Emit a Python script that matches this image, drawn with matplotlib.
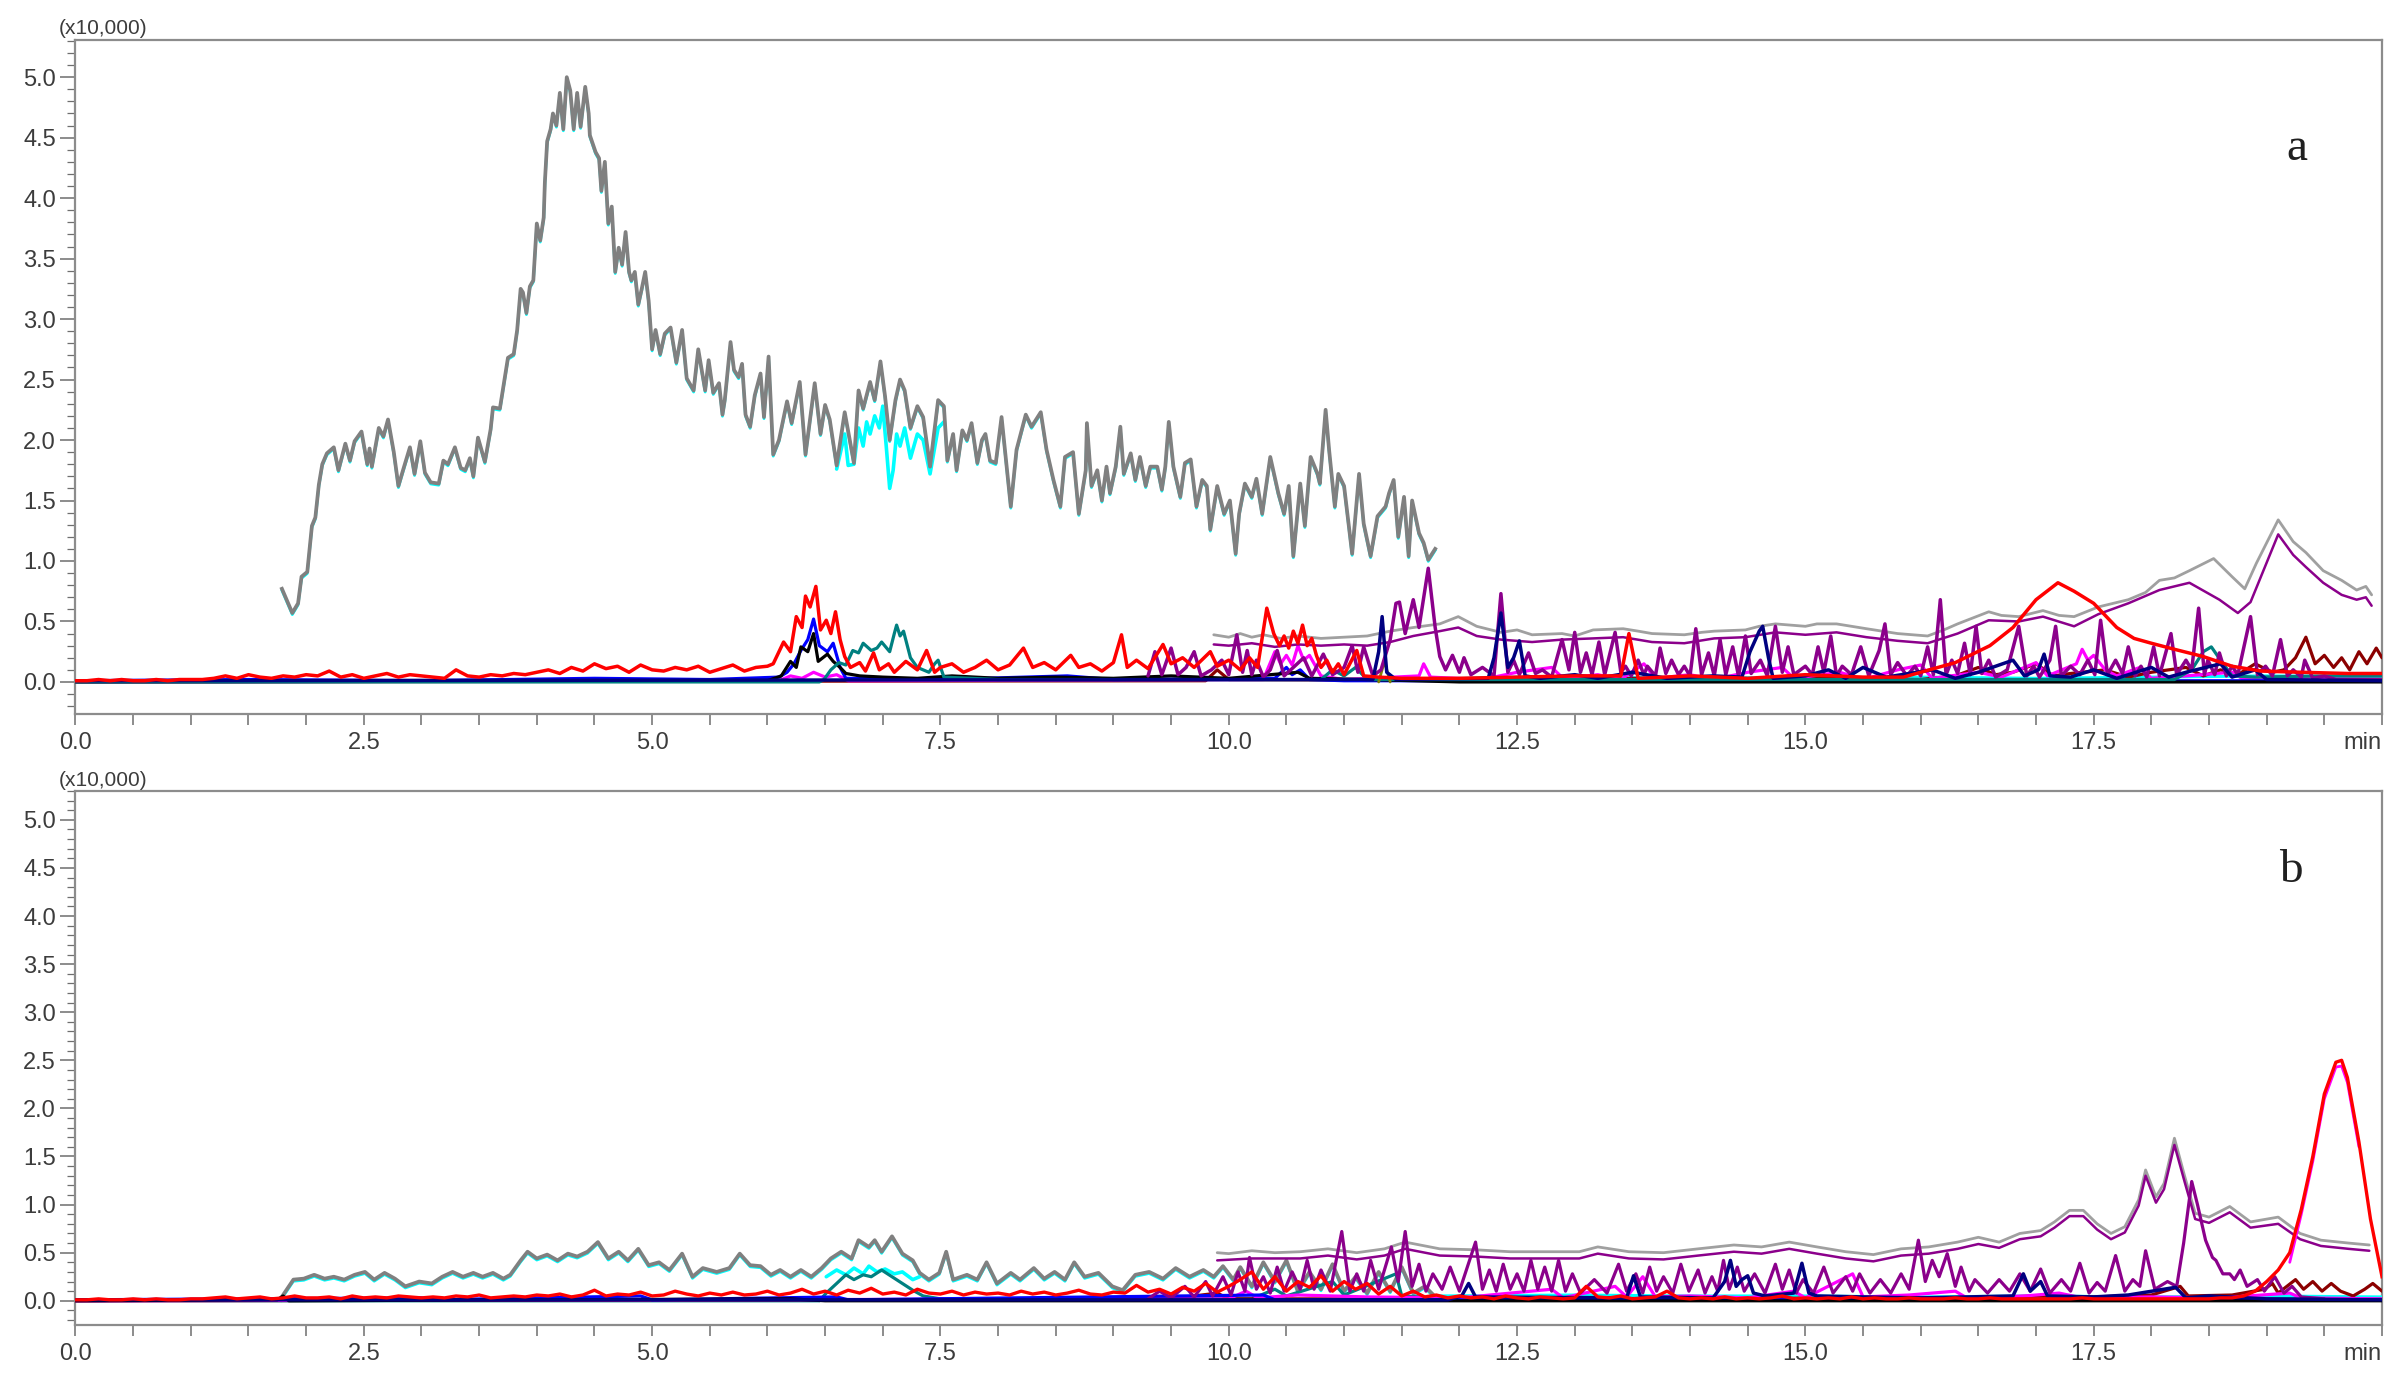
import numpy as np
import matplotlib.pyplot as plt
from matplotlib.ticker import MultipleLocator, FixedLocator
from matplotlib.transforms import offset_copy

plt.rcParams['font.family'] = ['Liberation Sans', 'DejaVu Sans']

# ---------------- panel a (values in x10,000 counts, time in min) ----------------
gray_a = [
    (1.79, 0.77), (1.88, 0.57), (1.93, 0.65), (1.96, 0.87), (2.01, 0.91), (2.05, 1.29), (2.08, 1.36),
    (2.11, 1.63), (2.14, 1.80), (2.18, 1.89), (2.24, 1.94), (2.28, 1.75), (2.34, 1.97), (2.38, 1.83),
    (2.42, 1.99), (2.48, 2.07), (2.53, 1.80), (2.55, 1.93), (2.57, 1.78), (2.63, 2.10), (2.67, 2.03),
    (2.71, 2.17), (2.76, 1.90), (2.80, 1.62), (2.84, 1.75), (2.90, 1.94), (2.94, 1.72), (2.99, 1.99),
    (3.03, 1.73), (3.08, 1.65), (3.15, 1.64), (3.19, 1.83), (3.23, 1.80), (3.29, 1.94), (3.34, 1.77),
    (3.38, 1.75), (3.42, 1.85), (3.45, 1.70), (3.49, 2.02), (3.55, 1.82), (3.60, 2.09), (3.62, 2.27),
    (3.68, 2.26), (3.71, 2.44), (3.75, 2.68), (3.80, 2.71), (3.83, 2.91), (3.86, 3.25), (3.88, 3.22),
    (3.91, 3.05), (3.94, 3.27), (3.97, 3.32), (4.00, 3.79), (4.03, 3.65), (4.06, 3.84), (4.07, 4.13),
    (4.09, 4.47), (4.12, 4.57), (4.14, 4.70), (4.17, 4.60), (4.20, 4.87), (4.23, 4.57), (4.26, 5.00),
    (4.29, 4.89), (4.32, 4.57), (4.35, 4.87), (4.38, 4.59), (4.42, 4.92), (4.45, 4.70), (4.46, 4.52),
    (4.51, 4.38), (4.54, 4.33), (4.56, 4.06), (4.59, 4.30), (4.62, 3.79), (4.65, 3.93), (4.68, 3.39),
    (4.71, 3.59), (4.74, 3.45), (4.77, 3.72), (4.80, 3.39), (4.82, 3.32), (4.85, 3.39), (4.88, 3.12),
    (4.91, 3.25), (4.94, 3.39), (4.97, 3.15), (5.00, 2.75), (5.03, 2.91), (5.07, 2.71), (5.11, 2.88),
    (5.16, 2.93), (5.21, 2.64), (5.26, 2.91), (5.30, 2.51), (5.36, 2.41), (5.40, 2.75), (5.46, 2.41),
    (5.49, 2.66), (5.53, 2.39), (5.58, 2.47), (5.61, 2.21), (5.63, 2.33), (5.68, 2.81), (5.71, 2.58),
    (5.75, 2.52), (5.78, 2.63), (5.81, 2.21), (5.85, 2.11), (5.89, 2.37), (5.94, 2.55), (5.97, 2.19),
    (6.01, 2.69), (6.05, 1.88), (6.10, 2.00), (6.17, 2.32), (6.21, 2.14), (6.28, 2.48), (6.33, 1.88),
    (6.41, 2.47), (6.46, 2.05), (6.50, 2.29), (6.54, 2.17), (6.60, 1.79), (6.67, 2.23), (6.75, 1.81),
    (6.79, 2.41), (6.83, 2.26), (6.89, 2.48), (6.93, 2.33), (6.98, 2.65), (7.02, 2.36), (7.06, 2.00),
    (7.11, 2.33), (7.15, 2.50), (7.19, 2.41), (7.24, 2.10), (7.30, 2.28), (7.35, 2.19), (7.41, 1.78),
    (7.48, 2.33), (7.53, 2.28), (7.56, 1.83), (7.61, 2.05), (7.64, 1.75), (7.69, 2.08), (7.73, 2.00),
    (7.77, 2.14), (7.82, 1.81), (7.86, 2.00), (7.89, 2.05), (7.93, 1.83), (7.98, 1.81), (8.03, 2.19),
    (8.11, 1.45), (8.16, 1.92), (8.24, 2.21), (8.29, 2.11), (8.37, 2.23), (8.42, 1.92), (8.48, 1.67),
    (8.54, 1.45), (8.58, 1.86), (8.65, 1.90), (8.70, 1.39), (8.76, 1.75), (8.77, 2.14), (8.81, 1.62),
    (8.86, 1.75), (8.90, 1.50), (8.94, 1.78), (8.97, 1.56), (9.02, 1.78), (9.06, 2.11), (9.09, 1.72),
    (9.15, 1.89), (9.19, 1.67), (9.23, 1.86), (9.28, 1.62), (9.32, 1.78), (9.38, 1.78), (9.42, 1.59),
    (9.45, 1.78), (9.48, 2.15), (9.52, 1.78), (9.58, 1.53), (9.62, 1.81), (9.67, 1.84), (9.72, 1.45),
    (9.77, 1.67), (9.81, 1.62), (9.84, 1.26), (9.90, 1.62), (9.96, 1.39), (10.01, 1.50), (10.06, 1.06),
    (10.09, 1.39), (10.14, 1.64), (10.20, 1.53), (10.24, 1.68), (10.29, 1.39), (10.36, 1.86),
    (10.43, 1.56), (10.48, 1.39), (10.52, 1.62), (10.56, 1.04), (10.62, 1.64), (10.66, 1.29),
    (10.71, 1.86), (10.77, 1.72), (10.79, 1.64), (10.84, 2.25), (10.87, 1.92), (10.92, 1.45),
    (10.95, 1.72), (11.00, 1.62), (11.07, 1.06), (11.13, 1.72), (11.17, 1.31), (11.23, 1.04),
    (11.29, 1.37), (11.36, 1.45), (11.39, 1.56), (11.43, 1.67), (11.47, 1.20), (11.52, 1.53),
    (11.56, 1.04), (11.59, 1.50), (11.65, 1.23), (11.69, 1.15), (11.73, 1.01), (11.79, 1.10),
]
cyan_a_dev = [
    (6.60, 1.76), (6.67, 2.05), (6.70, 1.79), (6.75, 1.80), (6.79, 2.10), (6.83, 1.95), (6.86, 2.15),
    (6.89, 2.05), (6.93, 2.20), (6.97, 2.10), (7.00, 2.28), (7.03, 1.95), (7.06, 1.60), (7.09, 1.75),
    (7.12, 2.05), (7.15, 1.95), (7.19, 2.10), (7.24, 1.85), (7.30, 2.05), (7.35, 2.00), (7.41, 1.72),
    (7.48, 2.10), (7.53, 2.15),
]
gray2_a = [
    (9.87, 0.39), (10.0, 0.37), (10.1, 0.40), (10.2, 0.37), (10.3, 0.39), (10.45, 0.36), (10.6, 0.38),
    (10.8, 0.36), (11.0, 0.37), (11.2, 0.38), (11.4, 0.42), (11.6, 0.45), (11.83, 0.48), (11.99, 0.54),
    (12.15, 0.46), (12.36, 0.41), (12.5, 0.43), (12.63, 0.39), (12.89, 0.40), (13.0, 0.38), (13.16, 0.43),
    (13.42, 0.44), (13.55, 0.42), (13.67, 0.40), (13.95, 0.39), (14.1, 0.41), (14.21, 0.42), (14.48, 0.43),
    (14.6, 0.46), (14.74, 0.48), (15.00, 0.46), (15.1, 0.48), (15.27, 0.48), (15.4, 0.46), (15.53, 0.44),
    (15.80, 0.40), (16.06, 0.38), (16.2, 0.43), (16.32, 0.48), (16.59, 0.58), (16.7, 0.55),
    (16.85, 0.54), (17.06, 0.59), (17.2, 0.55), (17.33, 0.54), (17.54, 0.62), (17.80, 0.68),
    (17.95, 0.74), (18.07, 0.84), (18.2, 0.86), (18.33, 0.92), (18.54, 1.02), (18.70, 0.87),
    (18.81, 0.77), (18.91, 0.98), (19.10, 1.34), (19.23, 1.16), (19.34, 1.07), (19.49, 0.92),
    (19.65, 0.84), (19.78, 0.76), (19.86, 0.79), (19.91, 0.72),
]
purple_smooth_a = [
    (9.87, 0.31), (10.0, 0.30), (10.2, 0.32), (10.4, 0.29), (10.6, 0.31), (10.8, 0.30), (11.0, 0.31),
    (11.2, 0.30), (11.4, 0.33), (11.6, 0.38), (11.83, 0.42), (11.99, 0.45), (12.15, 0.38), (12.36, 0.35),
    (12.63, 0.33), (12.89, 0.35), (13.16, 0.36), (13.42, 0.37), (13.67, 0.33), (13.95, 0.32),
    (14.21, 0.36), (14.48, 0.37), (14.74, 0.41), (15.00, 0.39), (15.27, 0.41), (15.53, 0.37),
    (15.80, 0.34), (16.06, 0.32), (16.32, 0.40), (16.59, 0.51), (16.85, 0.50), (17.06, 0.54),
    (17.33, 0.46), (17.54, 0.56), (17.80, 0.65), (18.07, 0.76), (18.33, 0.82), (18.59, 0.68),
    (18.75, 0.57), (18.86, 0.66), (19.10, 1.22), (19.23, 1.05), (19.34, 0.95), (19.49, 0.82),
    (19.65, 0.72), (19.78, 0.68), (19.86, 0.70), (19.91, 0.63),
]
purple_spiky_a = [
    (9.30, 0.05), (9.36, 0.25), (9.42, 0.06), (9.50, 0.28), (9.56, 0.06), (9.63, 0.12), (9.70, 0.25),
    (9.76, 0.05), (9.85, 0.10), (9.94, 0.18), (10.00, 0.06), (10.07, 0.39), (10.12, 0.08), (10.16, 0.26),
    (10.20, 0.06), (10.24, 0.18), (10.30, 0.04), (10.36, 0.10), (10.42, 0.26), (10.48, 0.05),
    (10.56, 0.12), (10.65, 0.20), (10.72, 0.05), (10.82, 0.23), (10.90, 0.06), (11.00, 0.12),
    (11.07, 0.30), (11.12, 0.08), (11.17, 0.29), (11.25, 0.05), (11.32, 0.10), (11.40, 0.35),
    (11.45, 0.65), (11.48, 0.66), (11.53, 0.40), (11.60, 0.68), (11.65, 0.45), (11.73, 0.94),
    (11.79, 0.45), (11.83, 0.21), (11.88, 0.10), (11.94, 0.22), (12.00, 0.08), (12.04, 0.20),
    (12.10, 0.06), (12.20, 0.12), (12.30, 0.05), (12.36, 0.73), (12.42, 0.08), (12.47, 0.18),
    (12.52, 0.06), (12.60, 0.24), (12.66, 0.07), (12.72, 0.10), (12.80, 0.04), (12.89, 0.35),
    (12.95, 0.10), (13.00, 0.41), (13.05, 0.08), (13.10, 0.24), (13.15, 0.06), (13.21, 0.33),
    (13.26, 0.06), (13.35, 0.41), (13.40, 0.08), (13.44, 0.13), (13.49, 0.05), (13.55, 0.18),
    (13.60, 0.06), (13.63, 0.13), (13.70, 0.05), (13.74, 0.28), (13.79, 0.07), (13.84, 0.18),
    (13.90, 0.06), (13.95, 0.13), (14.00, 0.05), (14.05, 0.44), (14.10, 0.06), (14.16, 0.24),
    (14.21, 0.05), (14.26, 0.35), (14.31, 0.06), (14.37, 0.29), (14.42, 0.05), (14.48, 0.38),
    (14.53, 0.07), (14.61, 0.18), (14.67, 0.05), (14.74, 0.46), (14.80, 0.08), (14.85, 0.29),
    (14.90, 0.06), (15.00, 0.13), (15.06, 0.06), (15.11, 0.29), (15.16, 0.08), (15.22, 0.38),
    (15.27, 0.05), (15.32, 0.13), (15.40, 0.06), (15.48, 0.29), (15.55, 0.05), (15.64, 0.26),
    (15.69, 0.48), (15.74, 0.06), (15.80, 0.16), (15.88, 0.05), (15.95, 0.13), (16.00, 0.05),
    (16.06, 0.29), (16.11, 0.06), (16.17, 0.68), (16.22, 0.06), (16.27, 0.18), (16.32, 0.07),
    (16.38, 0.32), (16.43, 0.06), (16.48, 0.46), (16.53, 0.07), (16.59, 0.18), (16.65, 0.04),
    (16.75, 0.10), (16.85, 0.46), (16.92, 0.05), (16.98, 0.13), (17.03, 0.04), (17.12, 0.18),
    (17.17, 0.46), (17.22, 0.05), (17.30, 0.13), (17.38, 0.06), (17.45, 0.18), (17.51, 0.06),
    (17.56, 0.51), (17.62, 0.06), (17.69, 0.18), (17.75, 0.07), (17.80, 0.29), (17.86, 0.05),
    (17.91, 0.13), (17.96, 0.04), (18.02, 0.29), (18.07, 0.05), (18.17, 0.40), (18.22, 0.06),
    (18.30, 0.18), (18.35, 0.10), (18.41, 0.61), (18.46, 0.06), (18.49, 0.18), (18.55, 0.06),
    (18.59, 0.24), (18.65, 0.05), (18.70, 0.13), (18.75, 0.06), (18.86, 0.54), (18.92, 0.06),
    (18.99, 0.13), (19.05, 0.05), (19.12, 0.35), (19.18, 0.05), (19.23, 0.10), (19.30, 0.04),
    (19.33, 0.18), (19.40, 0.03), (19.50, 0.05), (19.60, 0.02), (20.0, 0.02),
]
red_a_base = [  # 0.0 .. 6.0 min, every 0.1 min
    0.01, 0.01, 0.02, 0.01, 0.02, 0.01, 0.01, 0.02, 0.01, 0.02, 0.02,
    0.02, 0.03, 0.05, 0.03, 0.06, 0.04, 0.03, 0.05, 0.04, 0.06,
    0.05, 0.09, 0.04, 0.06, 0.03, 0.05, 0.07, 0.04, 0.06, 0.05,
    0.04, 0.03, 0.10, 0.05, 0.04, 0.06, 0.05, 0.07, 0.06, 0.08,
    0.10, 0.07, 0.12, 0.09, 0.15, 0.11, 0.13, 0.08, 0.14, 0.10,
    0.09, 0.12, 0.10, 0.13, 0.08, 0.11, 0.14, 0.09, 0.12, 0.13,
]
red_a = [
    (6.05, 0.15), (6.14, 0.33), (6.20, 0.25), (6.25, 0.54), (6.30, 0.45), (6.33, 0.71), (6.37, 0.62),
    (6.42, 0.79), (6.46, 0.43), (6.51, 0.51), (6.55, 0.40), (6.59, 0.58), (6.63, 0.35), (6.67, 0.21),
    (6.72, 0.12), (6.80, 0.16), (6.85, 0.09), (6.92, 0.24), (6.97, 0.10), (7.05, 0.15), (7.10, 0.08),
    (7.20, 0.17), (7.30, 0.10), (7.38, 0.26), (7.45, 0.08), (7.50, 0.12), (7.60, 0.15), (7.70, 0.08),
    (7.80, 0.12), (7.90, 0.18), (8.00, 0.10), (8.10, 0.14), (8.22, 0.28), (8.30, 0.12), (8.40, 0.16),
    (8.50, 0.10), (8.63, 0.22), (8.70, 0.12), (8.80, 0.15), (8.90, 0.09), (9.00, 0.16), (9.07, 0.39),
    (9.12, 0.12), (9.20, 0.18), (9.30, 0.11), (9.43, 0.31), (9.50, 0.15), (9.60, 0.20), (9.70, 0.12),
    (9.84, 0.25), (9.90, 0.13), (10.00, 0.18), (10.10, 0.10), (10.18, 0.20), (10.25, 0.12),
    (10.33, 0.61), (10.39, 0.40), (10.44, 0.30), (10.48, 0.38), (10.52, 0.28), (10.56, 0.42),
    (10.60, 0.32), (10.64, 0.47), (10.68, 0.30), (10.72, 0.36), (10.76, 0.22), (10.80, 0.12),
    (10.85, 0.18), (10.90, 0.08), (10.95, 0.15), (11.00, 0.06), (11.11, 0.26), (11.17, 0.05),
    (11.30, 0.04), (11.50, 0.03), (12.00, 0.03), (12.50, 0.04), (13.00, 0.05), (13.40, 0.05),
    (13.47, 0.40), (13.55, 0.03), (14.00, 0.05), (14.50, 0.03), (15.00, 0.06), (15.50, 0.04),
    (15.85, 0.04), (16.00, 0.08), (16.30, 0.16), (16.60, 0.30), (16.80, 0.45), (17.00, 0.68),
    (17.19, 0.82), (17.33, 0.75), (17.50, 0.65), (17.70, 0.45), (17.85, 0.36), (18.00, 0.32),
    (18.20, 0.27), (18.45, 0.21), (18.70, 0.13), (18.95, 0.09), (19.30, 0.08), (19.70, 0.07),
    (20.00, 0.07),
]
blue_a = [
    (0.0, 0.01), (1.5, 0.02), (3.0, 0.01), (4.5, 0.03), (5.5, 0.02), (6.10, 0.04), (6.17, 0.08),
    (6.23, 0.15), (6.29, 0.26), (6.35, 0.35), (6.40, 0.52), (6.45, 0.30), (6.52, 0.25), (6.57, 0.32),
    (6.63, 0.12), (6.68, 0.03), (7.5, 0.02), (8.6, 0.05), (9.0, 0.02), (10.4, 0.03), (10.5, 0.12),
    (10.55, 0.06), (10.62, 0.10), (10.7, 0.02), (11.0, 0.01), (20.0, 0.01),
]
black_a = [
    (0.0, 0.0), (6.0, 0.01), (6.12, 0.05), (6.20, 0.17), (6.25, 0.12), (6.29, 0.29), (6.35, 0.25),
    (6.40, 0.40), (6.44, 0.17), (6.48, 0.20), (6.52, 0.23), (6.57, 0.17), (6.63, 0.12), (6.68, 0.07),
    (6.8, 0.05), (7.0, 0.04), (7.3, 0.03), (7.6, 0.05), (8.0, 0.03), (8.5, 0.04), (9.0, 0.03),
    (9.5, 0.05), (10.0, 0.03), (10.6, 0.08), (10.7, 0.03), (11.2, 0.02), (12.0, 0.0), (20.0, 0.0),
]
teal_a = [
    (0.0, 0.0), (6.45, 0.0), (6.49, 0.02), (6.55, 0.10), (6.62, 0.16), (6.68, 0.14), (6.74, 0.26),
    (6.79, 0.24), (6.83, 0.32), (6.90, 0.26), (6.95, 0.28), (6.99, 0.33), (7.06, 0.25), (7.10, 0.40),
    (7.12, 0.47), (7.15, 0.38), (7.18, 0.42), (7.24, 0.20), (7.30, 0.12), (7.40, 0.08), (7.45, 0.15),
    (7.48, 0.18), (7.53, 0.04), (8.0, 0.02), (10.8, 0.02), (10.9, 0.10), (11.0, 0.05), (11.1, 0.12),
    (11.2, 0.02), (18.2, 0.02), (18.35, 0.10), (18.45, 0.25), (18.52, 0.29), (18.6, 0.18),
    (18.7, 0.05), (18.9, 0.04), (19.5, 0.05), (20.0, 0.05),
]
magenta_a = [
    (0.0, 0.0), (6.1, 0.01), (6.2, 0.05), (6.3, 0.03), (6.4, 0.08), (6.5, 0.04), (6.6, 0.06),
    (6.7, 0.01), (10.3, 0.02), (10.4, 0.25), (10.45, 0.15), (10.5, 0.22), (10.55, 0.14), (10.6, 0.30),
    (10.65, 0.18), (10.7, 0.22), (10.8, 0.05), (11.0, 0.02), (11.65, 0.05), (11.69, 0.15),
    (11.75, 0.04), (12.2, 0.02), (12.5, 0.08), (12.8, 0.12), (12.9, 0.03), (13.2, 0.06), (13.4, 0.02),
    (13.6, 0.15), (13.7, 0.03), (14.0, 0.06), (14.2, 0.02), (14.5, 0.08), (14.8, 0.12), (14.9, 0.03),
    (15.3, 0.08), (15.5, 0.02), (15.8, 0.10), (16.0, 0.14), (16.1, 0.03), (16.5, 0.08), (16.7, 0.04),
    (17.0, 0.16), (17.1, 0.05), (17.35, 0.15), (17.4, 0.27), (17.45, 0.18), (17.5, 0.22),
    (17.6, 0.10), (17.7, 0.05), (17.9, 0.12), (18.0, 0.03), (18.3, 0.05), (18.7, 0.08), (18.8, 0.02),
    (19.0, 0.03), (20.0, 0.02),
]
navy_a = [
    (0.0, 0.01), (11.25, 0.02), (11.30, 0.25), (11.33, 0.54), (11.37, 0.08), (11.45, 0.02),
    (12.25, 0.03), (12.30, 0.20), (12.36, 0.57), (12.42, 0.12), (12.47, 0.20), (12.52, 0.34),
    (12.57, 0.05), (12.7, 0.03), (13.0, 0.06), (13.2, 0.03), (13.5, 0.08), (13.8, 0.03), (14.2, 0.05),
    (14.45, 0.04), (14.52, 0.25), (14.60, 0.42), (14.63, 0.46), (14.68, 0.20), (14.72, 0.03),
    (15.0, 0.05), (15.2, 0.10), (15.35, 0.03), (15.5, 0.12), (15.7, 0.04), (16.1, 0.10), (16.3, 0.03),
    (16.5, 0.08), (16.8, 0.18), (16.9, 0.05), (17.02, 0.10), (17.07, 0.23), (17.12, 0.05),
    (17.3, 0.04), (17.5, 0.10), (17.7, 0.03), (18.0, 0.12), (18.15, 0.04), (18.3, 0.08), (18.6, 0.15),
    (18.7, 0.04), (18.9, 0.10), (19.0, 0.02), (20.0, 0.01),
]
maroon_a = [
    (0.0, 0.0), (9.8, 0.01), (9.9, 0.10), (10.0, 0.02), (13.0, 0.01), (13.5, 0.03), (14.0, 0.02),
    (15.0, 0.03), (16.0, 0.02), (16.3, 0.05), (16.5, 0.12), (16.65, 0.06), (16.8, 0.08), (17.0, 0.15),
    (17.15, 0.05), (17.3, 0.07), (17.6, 0.10), (17.8, 0.04), (18.0, 0.08), (18.3, 0.12), (18.45, 0.05),
    (18.6, 0.10), (18.75, 0.06), (18.9, 0.15), (19.05, 0.08), (19.15, 0.10), (19.25, 0.20),
    (19.34, 0.37), (19.42, 0.15), (19.5, 0.22), (19.58, 0.12), (19.65, 0.20), (19.72, 0.10),
    (19.80, 0.25), (19.87, 0.15), (19.95, 0.28), (20.0, 0.20),
]
olive_a = [(11.30, 0.0), (11.35, 0.17), (11.40, 0.0)]
cyan_low_a = [
    (11.8, 0.02), (12.5, 0.04), (13.0, 0.03), (14.0, 0.04), (15.0, 0.03), (16.0, 0.04), (17.0, 0.03),
    (18.0, 0.04), (19.0, 0.05), (20.0, 0.04),
]

# ---------------- panel b ----------------
gray_b = [
    (1.78, 0.02), (1.80, 0.06), (1.89, 0.22), (1.98, 0.23), (2.07, 0.27), (2.16, 0.23), (2.24, 0.25),
    (2.33, 0.22), (2.42, 0.27), (2.51, 0.30), (2.59, 0.22), (2.68, 0.29), (2.77, 0.23), (2.86, 0.15),
    (2.98, 0.20), (3.09, 0.18), (3.18, 0.25), (3.27, 0.30), (3.36, 0.25), (3.45, 0.29), (3.53, 0.25),
    (3.62, 0.29), (3.71, 0.23), (3.77, 0.27), (3.86, 0.42), (3.92, 0.51), (4.00, 0.44), (4.09, 0.48),
    (4.18, 0.42), (4.27, 0.49), (4.35, 0.46), (4.44, 0.51), (4.53, 0.61), (4.62, 0.44), (4.71, 0.51),
    (4.79, 0.42), (4.88, 0.54), (4.97, 0.37), (5.06, 0.40), (5.15, 0.32), (5.26, 0.49), (5.35, 0.25),
    (5.44, 0.34), (5.56, 0.30), (5.67, 0.34), (5.76, 0.49), (5.85, 0.37), (5.94, 0.36), (6.03, 0.27),
    (6.11, 0.32), (6.20, 0.25), (6.29, 0.32), (6.38, 0.25), (6.47, 0.34), (6.55, 0.44), (6.64, 0.51),
    (6.73, 0.44), (6.79, 0.63), (6.88, 0.56), (6.93, 0.63), (6.99, 0.51), (7.08, 0.67), (7.17, 0.49),
    (7.26, 0.42), (7.32, 0.29), (7.40, 0.22), (7.49, 0.29), (7.55, 0.51), (7.61, 0.22), (7.73, 0.27),
    (7.82, 0.22), (7.90, 0.40), (7.99, 0.18), (8.11, 0.29), (8.19, 0.22), (8.31, 0.34), (8.40, 0.23),
    (8.49, 0.30), (8.58, 0.22), (8.66, 0.40), (8.75, 0.25), (8.87, 0.29), (8.99, 0.15), (9.08, 0.11),
    (9.19, 0.27), (9.31, 0.30), (9.43, 0.23), (9.54, 0.34), (9.66, 0.25), (9.78, 0.32), (9.87, 0.25),
    (9.95, 0.36), (10.04, 0.22), (10.1, 0.35), (10.2, 0.15), (10.3, 0.40), (10.4, 0.20), (10.5, 0.42),
    (10.6, 0.10), (10.7, 0.30), (10.8, 0.12), (10.9, 0.38), (11.0, 0.10), (11.1, 0.25), (11.2, 0.08),
    (11.3, 0.30), (11.4, 0.10), (11.5, 0.35), (11.6, 0.08), (11.7, 0.15), (11.8, 0.03),
]
cyan_b_dev = [
    (6.51, 0.25), (6.60, 0.32), (6.68, 0.27), (6.75, 0.34), (6.83, 0.28), (6.88, 0.36), (6.95, 0.30),
    (7.02, 0.33), (7.10, 0.28), (7.17, 0.30), (7.26, 0.22), (7.32, 0.25),
]
teal_b = [
    (0.0, 0.0), (6.45, 0.0), (6.51, 0.08), (6.60, 0.18), (6.68, 0.27), (6.75, 0.22), (6.83, 0.27),
    (6.90, 0.25), (6.99, 0.32), (7.08, 0.25), (7.17, 0.18), (7.26, 0.11), (7.35, 0.05), (7.5, 0.02),
    (10.2, 0.02), (10.4, 0.12), (10.5, 0.05), (10.9, 0.20), (11.0, 0.06), (11.45, 0.28), (11.5, 0.05),
    (12.0, 0.02), (20.0, 0.02),
]
gray2_b = [
    (9.90, 0.50), (10.0, 0.49), (10.2, 0.52), (10.4, 0.50), (10.62, 0.51), (10.86, 0.54), (11.11, 0.50),
    (11.35, 0.54), (11.53, 0.61), (11.83, 0.54), (12.14, 0.53), (12.44, 0.51), (12.74, 0.51),
    (13.04, 0.51), (13.20, 0.56), (13.47, 0.51), (13.77, 0.50), (14.07, 0.54), (14.38, 0.58),
    (14.62, 0.56), (14.86, 0.61), (15.10, 0.56), (15.35, 0.51), (15.59, 0.48), (15.83, 0.54),
    (16.07, 0.56), (16.32, 0.61), (16.50, 0.66), (16.68, 0.61), (16.86, 0.70), (17.04, 0.73),
    (17.16, 0.82), (17.29, 0.94), (17.41, 0.94), (17.53, 0.80), (17.65, 0.70), (17.77, 0.77),
    (17.89, 1.05), (17.95, 1.36), (18.04, 1.08), (18.11, 1.22), (18.20, 1.69), (18.29, 1.29),
    (18.38, 0.91), (18.50, 0.87), (18.68, 0.98), (18.86, 0.82), (19.10, 0.87), (19.29, 0.70),
    (19.47, 0.63), (19.71, 0.60), (19.89, 0.58),
]
purple_smooth_b = [
    (9.90, 0.42), (10.2, 0.44), (10.62, 0.44), (10.86, 0.47), (11.11, 0.43), (11.35, 0.47),
    (11.53, 0.54), (11.83, 0.47), (12.14, 0.46), (12.44, 0.44), (12.74, 0.44), (13.04, 0.44),
    (13.20, 0.49), (13.47, 0.44), (13.77, 0.43), (14.07, 0.47), (14.38, 0.51), (14.62, 0.49),
    (14.86, 0.54), (15.10, 0.49), (15.35, 0.44), (15.59, 0.41), (15.83, 0.47), (16.07, 0.49),
    (16.32, 0.54), (16.50, 0.59), (16.68, 0.55), (16.86, 0.64), (17.04, 0.67), (17.16, 0.76),
    (17.29, 0.88), (17.41, 0.88), (17.53, 0.74), (17.65, 0.64), (17.77, 0.71), (17.89, 0.99),
    (17.95, 1.30), (18.04, 1.02), (18.11, 1.16), (18.20, 1.62), (18.29, 1.23), (18.38, 0.85),
    (18.50, 0.81), (18.68, 0.92), (18.86, 0.76), (19.10, 0.80), (19.29, 0.64), (19.47, 0.57),
    (19.71, 0.54), (19.89, 0.52),
]
purple_spiky_b = [
    (9.30, 0.02), (9.40, 0.10), (9.50, 0.03), (9.62, 0.15), (9.70, 0.04), (9.80, 0.20), (9.86, 0.05),
    (9.95, 0.25), (10.02, 0.06), (10.08, 0.30), (10.14, 0.10), (10.18, 0.45), (10.24, 0.12),
    (10.30, 0.25), (10.36, 0.08), (10.42, 0.35), (10.48, 0.10), (10.55, 0.30), (10.62, 0.12),
    (10.68, 0.42), (10.74, 0.12), (10.80, 0.32), (10.88, 0.10), (10.98, 0.72), (11.05, 0.10),
    (11.11, 0.28), (11.17, 0.10), (11.23, 0.42), (11.30, 0.12), (11.41, 0.56), (11.47, 0.20),
    (11.53, 0.72), (11.59, 0.15), (11.65, 0.38), (11.71, 0.10), (11.77, 0.28), (11.85, 0.12),
    (11.92, 0.35), (12.00, 0.10), (12.14, 0.61), (12.20, 0.12), (12.26, 0.32), (12.32, 0.10),
    (12.38, 0.38), (12.44, 0.12), (12.50, 0.28), (12.56, 0.10), (12.62, 0.42), (12.68, 0.12),
    (12.74, 0.35), (12.80, 0.10), (12.86, 0.42), (12.92, 0.10), (12.98, 0.28), (13.05, 0.08),
    (13.17, 0.22), (13.28, 0.08), (13.38, 0.38), (13.45, 0.10), (13.53, 0.28), (13.59, 0.08),
    (13.65, 0.35), (13.71, 0.10), (13.77, 0.25), (13.85, 0.08), (13.92, 0.38), (13.99, 0.10),
    (14.07, 0.32), (14.13, 0.08), (14.19, 0.25), (14.24, 0.10), (14.29, 0.42), (14.34, 0.12),
    (14.41, 0.35), (14.47, 0.10), (14.56, 0.28), (14.65, 0.08), (14.74, 0.38), (14.80, 0.12),
    (14.86, 0.32), (14.92, 0.08), (14.98, 0.22), (15.07, 0.08), (15.16, 0.35), (15.24, 0.08),
    (15.35, 0.25), (15.41, 0.10), (15.47, 0.28), (15.56, 0.08), (15.65, 0.22), (15.74, 0.08),
    (15.83, 0.28), (15.90, 0.12), (15.98, 0.63), (16.04, 0.20), (16.10, 0.42), (16.16, 0.25),
    (16.23, 0.49), (16.30, 0.15), (16.35, 0.35), (16.42, 0.10), (16.47, 0.22), (16.58, 0.08),
    (16.68, 0.22), (16.77, 0.10), (16.86, 0.28), (16.95, 0.10), (17.04, 0.33), (17.12, 0.08),
    (17.22, 0.22), (17.30, 0.10), (17.38, 0.39), (17.46, 0.08), (17.53, 0.19), (17.60, 0.10),
    (17.69, 0.47), (17.77, 0.10), (17.84, 0.22), (17.90, 0.15), (17.95, 0.52), (18.03, 0.12),
    (18.14, 0.20), (18.22, 0.15), (18.28, 0.60), (18.35, 1.24), (18.40, 1.00), (18.47, 0.63),
    (18.53, 0.45), (18.56, 0.42), (18.62, 0.28), (18.68, 0.28), (18.72, 0.22), (18.77, 0.32),
    (18.83, 0.15), (18.92, 0.22), (18.98, 0.10), (19.07, 0.25), (19.15, 0.08), (19.22, 0.15),
    (19.30, 0.04), (19.50, 0.02),
]
red_b_base = [  # 0.0 .. 18.7 min, every 0.1 min
    0.01, 0.01, 0.02, 0.01, 0.01, 0.02, 0.01, 0.02, 0.01, 0.01, 0.02,
    0.02, 0.03, 0.04, 0.02, 0.03, 0.04, 0.02, 0.03, 0.05, 0.03,
    0.03, 0.04, 0.02, 0.05, 0.03, 0.04, 0.03, 0.05, 0.04, 0.03,
    0.04, 0.03, 0.05, 0.04, 0.06, 0.03, 0.04, 0.05, 0.04, 0.06,
    0.05, 0.07, 0.04, 0.06, 0.11, 0.05, 0.07, 0.06, 0.09, 0.05,
    0.06, 0.10, 0.07, 0.05, 0.08, 0.06, 0.09, 0.06, 0.07, 0.10,
    0.06, 0.08, 0.12, 0.07, 0.10, 0.06, 0.11, 0.08, 0.13, 0.07,
    0.09, 0.06, 0.12, 0.08, 0.07, 0.10, 0.06, 0.09, 0.07, 0.08,
    0.06, 0.10, 0.07, 0.09, 0.06, 0.08, 0.11, 0.07, 0.06, 0.09,
    0.08, 0.16, 0.09, 0.12, 0.07, 0.14, 0.10, 0.18, 0.09, 0.15,
    0.22, 0.30, 0.12, 0.25, 0.10, 0.20, 0.14, 0.26, 0.10, 0.20,
    0.12, 0.18, 0.07, 0.15, 0.05, 0.10, 0.04, 0.06, 0.03, 0.05,
    0.03, 0.04, 0.02, 0.05, 0.03, 0.02, 0.04, 0.03, 0.02, 0.03,
    0.15, 0.04, 0.03, 0.05, 0.02, 0.03, 0.04, 0.10, 0.03, 0.02,
    0.03, 0.02, 0.04, 0.02, 0.03, 0.02, 0.03, 0.05, 0.02, 0.03,
    0.02, 0.03, 0.02, 0.04, 0.02, 0.03, 0.02, 0.02, 0.03, 0.02,
    0.02, 0.02, 0.03, 0.02, 0.02, 0.03, 0.02, 0.02, 0.02, 0.02,
    0.02, 0.02, 0.02, 0.03, 0.02, 0.02, 0.02, 0.02, 0.02, 0.02,
    0.02, 0.02, 0.02, 0.02, 0.02, 0.03, 0.03,
]
red_b_peak = [
    (18.8, 0.05), (18.9, 0.10), (19.0, 0.20), (19.1, 0.32), (19.2, 0.50), (19.3, 0.95), (19.4, 1.50),
    (19.5, 2.15), (19.6, 2.48), (19.65, 2.50), (19.7, 2.32), (19.8, 1.65), (19.9, 0.85), (20.0, 0.25),
]
magenta_b_peak = [
    (19.2, 0.40), (19.3, 0.90), (19.4, 1.45), (19.5, 2.10), (19.6, 2.43), (19.65, 2.44),
    (19.7, 2.27), (19.8, 1.60),
]
navy_b = [
    (0.0, 0.01), (11.9, 0.01), (12.02, 0.05), (12.08, 0.18), (12.14, 0.04), (13.45, 0.03),
    (13.51, 0.26), (13.57, 0.04), (14.2, 0.03), (14.30, 0.20), (14.35, 0.42), (14.40, 0.15),
    (14.45, 0.22), (14.50, 0.26), (14.55, 0.08), (14.65, 0.05), (14.90, 0.08), (14.97, 0.39),
    (15.03, 0.08), (15.10, 0.05), (15.5, 0.04), (16.0, 0.03), (16.80, 0.05), (16.89, 0.28),
    (16.95, 0.10), (17.04, 0.20), (17.10, 0.05), (17.5, 0.04), (17.8, 0.06), (18.21, 0.14),
    (18.3, 0.03), (18.5, 0.05), (19.0, 0.02), (20.0, 0.01),
]
maroon_b = [
    (0.0, 0.0), (7.0, 0.01), (9.5, 0.02), (9.9, 0.08), (10.0, 0.02), (12.0, 0.02), (16.5, 0.03),
    (17.0, 0.05), (17.5, 0.04), (18.0, 0.06), (18.25, 0.15), (18.32, 0.05), (18.7, 0.06),
    (18.98, 0.12), (19.05, 0.18), (19.1, 0.08), (19.25, 0.22), (19.32, 0.12), (19.40, 0.20),
    (19.48, 0.10), (19.56, 0.18), (19.64, 0.10), (19.75, 0.05), (19.85, 0.12), (19.92, 0.18),
    (20.0, 0.10),
]
magenta_b = [
    (0.0, 0.0), (5.0, 0.01), (10.0, 0.02), (10.15, 0.10), (10.25, 0.03), (10.6, 0.06), (11.2, 0.04),
    (12.0, 0.03), (12.8, 0.12), (12.9, 0.03), (13.35, 0.15), (13.45, 0.04), (13.59, 0.25),
    (13.7, 0.04), (14.0, 0.05), (14.5, 0.03), (14.9, 0.10), (15.0, 0.03), (15.41, 0.28), (15.5, 0.04),
    (15.9, 0.06), (16.3, 0.10), (16.4, 0.03), (16.9, 0.05), (17.2, 0.08), (17.4, 0.03), (18.0, 0.04),
    (18.6, 0.03), (19.2, 0.08), (19.3, 0.03), (20.0, 0.02),
]
blue_b = [
    (0.0, 0.01), (3.0, 0.03), (3.1, 0.01), (4.9, 0.05), (5.0, 0.01), (6.6, 0.04), (6.7, 0.01),
    (10.3, 0.06), (10.4, 0.01), (20.0, 0.01),
]
black_b = [(0.0, 0.0), (1.75, 0.01), (1.8, 0.05), (1.85, 0.0), (6.2, 0.02), (6.5, 0.0), (20.0, 0.0)]
cyan_low_b = [
    (11.8, 0.05), (13.0, 0.06), (14.0, 0.05), (15.0, 0.05), (16.0, 0.04), (17.0, 0.05), (18.0, 0.04),
    (19.0, 0.05), (20.0, 0.04),
]

x_ticklabels = ['0.0', '2.5', '5.0', '7.5', '10.0', '12.5', '15.0', '17.5', 'min']

GRAY = '#808080'
LGRAY = '#a0a0a0'
CYAN = '#00ffff'
RED = '#ff0000'
PURPLE = '#8b008b'
NAVY = '#000080'
TEAL = '#008080'
MAROON = '#8b0000'
MAGENTA = '#ff00ff'
BLUE = '#0000ff'
OLIVE = '#808000'
TEXT = '#3c3c3c'
FRAME = '#8c8c8c'


def arr(pairs):
    a = np.array(pairs, dtype=float)
    return a[:, 0], a[:, 1]


def line(ax, pairs, color, lw, z, **kw):
    t, v = arr(pairs)
    ax.plot(t, v, color=color, lw=lw, zorder=z, solid_joinstyle='round', solid_capstyle='round', **kw)


def style_axes(ax, ylo, yhi):
    ax.set_xlim(0, 20)
    ax.set_ylim(ylo, yhi)
    for s in ax.spines.values():
        s.set_color(FRAME)
        s.set_linewidth(1.6)
    ax.yaxis.set_major_locator(MultipleLocator(0.5))
    ax.yaxis.set_minor_locator(MultipleLocator(0.1))
    ax.yaxis.set_major_formatter(plt.FuncFormatter(lambda v, p: f'{v:.1f}'))
    ax.xaxis.set_major_locator(FixedLocator([0, 2.5, 5, 7.5, 10, 12.5, 15, 17.5, 20]))
    ax.xaxis.set_minor_locator(MultipleLocator(0.5))
    ax.set_xticklabels(x_ticklabels)
    ax.xaxis.get_ticklabels()[-1].set_horizontalalignment('right')
    ax.tick_params(axis='y', which='major', direction='out', length=11, width=1.1, color='#6e6e6e',
                   labelsize=17, labelcolor=TEXT, pad=3)
    ax.tick_params(axis='y', which='minor', direction='out', length=6, width=0.9, color='#6e6e6e')
    ax.tick_params(axis='x', which='both', direction='out', length=8, width=1.1, color='#6e6e6e',
                   labelsize=17, labelcolor=TEXT, pad=5)


fig = plt.figure(figsize=(23.98, 13.74), dpi=100)
ax_a = fig.add_axes([0.03148, 0.48035, 0.96185, 0.49025])
ax_b = fig.add_axes([0.03148, 0.03537, 0.96185, 0.38930])
style_axes(ax_a, -0.265, 5.304)
style_axes(ax_b, -0.256, 5.305)

# ---- panel a ----
shift_a = offset_copy(ax_a.transData, fig=fig, y=-1.6, units='dots')
t, v = arr(gray_a)
ax_a.plot(t, v, color=CYAN, lw=2.0, zorder=2, transform=shift_a, solid_joinstyle='round')
line(ax_a, cyan_a_dev, CYAN, 2.6, 2.1)
ax_a.plot(t, v, color=GRAY, lw=2.7, zorder=3, solid_joinstyle='round')
line(ax_a, cyan_low_a, CYAN, 2.2, 3)
line(ax_a, maroon_a, MAROON, 2.3, 4)
line(ax_a, magenta_a, MAGENTA, 2.3, 5)
line(ax_a, blue_a, BLUE, 2.3, 5)
line(ax_a, black_a, 'black', 2.3, 6)
line(ax_a, teal_a, TEAL, 2.3, 6)
line(ax_a, olive_a, OLIVE, 2.0, 6)
line(ax_a, gray2_a, LGRAY, 2.0, 6)
line(ax_a, purple_smooth_a, PURPLE, 1.8, 7)
line(ax_a, purple_spiky_a, PURPLE, 2.5, 7)
line(ax_a, navy_a, NAVY, 2.5, 8)
t0 = np.arange(len(red_a_base)) * 0.1
ra_t = np.concatenate([t0, arr(red_a)[0]])
ra_v = np.concatenate([np.array(red_a_base), arr(red_a)[1]])
ax_a.plot(ra_t, ra_v, color=RED, lw=2.5, zorder=9, solid_joinstyle='round')

# ---- panel b ----
shift_b = offset_copy(ax_b.transData, fig=fig, y=-1.6, units='dots')
t, v = arr(gray_b)
ax_b.plot(t, v, color=CYAN, lw=2.0, zorder=2, transform=shift_b, solid_joinstyle='round')
line(ax_b, cyan_b_dev, CYAN, 2.6, 2.1)
ax_b.plot(t, v, color=GRAY, lw=2.7, zorder=3, solid_joinstyle='round')
line(ax_b, cyan_low_b, CYAN, 2.2, 3)
line(ax_b, teal_b, TEAL, 2.3, 4)
line(ax_b, maroon_b, MAROON, 2.3, 4)
line(ax_b, magenta_b, MAGENTA, 2.3, 5)
line(ax_b, blue_b, BLUE, 2.3, 5)
line(ax_b, black_b, 'black', 2.3, 6)
line(ax_b, gray2_b, LGRAY, 2.0, 6)
line(ax_b, purple_smooth_b, PURPLE, 1.8, 7)
line(ax_b, purple_spiky_b, PURPLE, 2.3, 7)
line(ax_b, navy_b, NAVY, 2.5, 8)
line(ax_b, magenta_b_peak, MAGENTA, 2.0, 8)
t0 = np.arange(len(red_b_base)) * 0.1
rb_t = np.concatenate([t0, arr(red_b_peak)[0]])
rb_v = np.concatenate([np.array(red_b_base), arr(red_b_peak)[1]])
ax_b.plot(rb_t, rb_v, color=RED, lw=2.4, zorder=9, solid_joinstyle='round')

# ---- annotations ----
fig.text(0.0245, 0.9793, '(x10,000)', fontsize=15, color=TEXT, ha='left', va='center')
fig.text(0.0245, 0.4323, '(x10,000)', fontsize=15, color=TEXT, ha='left', va='center')
fig.text(0.9579, 0.8916, 'a', fontsize=34, family='Liberation Serif', color='#202020',
         ha='center', va='center')
fig.text(0.9554, 0.3660, 'b', fontsize=34, family='Liberation Serif', color='#202020',
         ha='center', va='center')

fig.savefig('out.png', dpi=100)
